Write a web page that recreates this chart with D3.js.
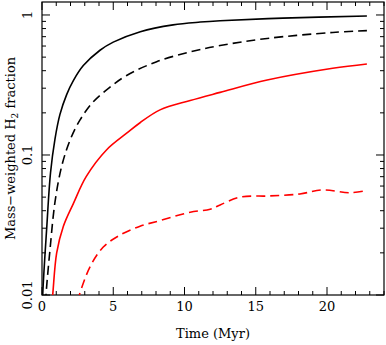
<!DOCTYPE html>
<html>
<head>
<meta charset="utf-8">
<script src="https://cdn.jsdelivr.net/npm/d3@7"></script>
<style>
  body { margin: 0; background: #fff; }
  text { font-family: "DejaVu Serif", serif; fill: #000; }
</style>
</head>
<body>
<svg id="mainsvg" width="386" height="345"></svg>
<script>
// values
const blackSolidT = [0.0, 0.05, 0.33, 0.6, 0.91, 1.26, 1.73, 2.2, 2.9, 4.07, 5.0, 6.9, 9.2, 11.1, 12.5, 16.9, 22.8];
const blackSolidV = [0.006, 0.01, 0.03, 0.075, 0.13, 0.195, 0.27, 0.34, 0.435, 0.56, 0.64, 0.76, 0.85, 0.89, 0.91, 0.95, 0.984];

const blackDashT = [0.2, 0.28, 0.56, 0.91, 1.38, 1.96, 2.67, 3.6, 4.77, 5.94, 8.05, 10.4, 12.5, 15.8, 20.4, 22.8];
const blackDashV = [0.007, 0.01, 0.021, 0.046, 0.083, 0.127, 0.178, 0.24, 0.305, 0.37, 0.464, 0.545, 0.605, 0.68, 0.75, 0.773];

const redSolidT = [0.65, 0.75, 1.03, 1.5, 2.2, 3.1, 4.54, 5.94, 6.88, 8.28, 10.4, 12.5, 15.8, 20.4, 22.8];
const redSolidV = [0.008, 0.01, 0.020, 0.031, 0.045, 0.070, 0.109, 0.143, 0.17, 0.21, 0.245, 0.28, 0.343, 0.416, 0.447];

const redDashT = [2.5, 2.62, 3.37, 4.3, 5.47, 6.88, 8.28, 10.4, 11.8, 12.5, 13.9, 16.0, 18.1, 19.7, 21.6, 22.8];
const redDashV = [0.009, 0.01, 0.0159, 0.022, 0.0268, 0.031, 0.034, 0.039, 0.041, 0.044, 0.050, 0.051, 0.0527, 0.0563, 0.0538, 0.0557];

const xMajor = [0, 5, 10, 15, 20];
const xMinor = d3.range(0, 25, 1);
const yMajor = [0.01, 0.1, 1];
const yMajorLabels = ['0.01', '0.1', '1'];

const svg = d3.select('#mainsvg');
const margin = {top: 2, right: 2, bottom: 50, left: 42};
const x0 = margin.left, x1 = 384, y0 = 295, y1 = margin.top;

const xScale = d3.scaleLinear().domain([0, 24]).range([x0, x1]);
const yScale = d3.scaleLog().domain([0.01, 1.238]).range([y0, y1]);

// minor ticks on log axis: 2..9 times each decade
let yMinor = [];
[0.01, 0.1, 1].forEach(d => { for (let k = 2; k <= 9; k++) { if (d * k <= 1.238) yMinor.push(d * k); } });

svg.append('clipPath').attr('id', 'clip')
  .append('rect').attr('x', x0).attr('y', y1).attr('width', x1 - x0).attr('height', y0 - y1);

const g = svg.append('g');

// frame
g.append('rect')
  .attr('x', x0).attr('y', y1).attr('width', x1 - x0).attr('height', y0 - y1)
  .attr('fill', 'none').attr('stroke', '#000').attr('stroke-width', 1.2);

// ticks (inward, on all four sides)
const tickG = g.append('g').attr('stroke', '#000').attr('stroke-width', 1);
xMinor.forEach(t => {
  const len = xMajor.includes(t) ? 8 : 4;
  tickG.append('line').attr('x1', xScale(t)).attr('x2', xScale(t)).attr('y1', y0).attr('y2', y0 - len);
  tickG.append('line').attr('x1', xScale(t)).attr('x2', xScale(t)).attr('y1', y1).attr('y2', y1 + len);
});
yMajor.concat(yMinor).forEach(v => {
  const len = yMajor.includes(v) ? 8 : 4;
  tickG.append('line').attr('x1', x0).attr('x2', x0 + len).attr('y1', yScale(v)).attr('y2', yScale(v));
  tickG.append('line').attr('x1', x1).attr('x2', x1 - len).attr('y1', yScale(v)).attr('y2', yScale(v));
});

// tick labels
g.selectAll('.xlab').data(xMajor).join('text')
  .attr('class', 'xlab')
  .attr('x', d => xScale(d)).attr('y', 311)
  .attr('text-anchor', 'middle').attr('font-size', 13)
  .text(d => d);

g.selectAll('.ylab').data(yMajor).join('text')
  .attr('class', 'ylab')
  .attr('transform', d => `translate(32, ${yScale(d)}) rotate(-90)`)
  .attr('text-anchor', 'middle').attr('font-size', 13)
  .text((d, i) => yMajorLabels[i]);

// axis titles
g.append('text')
  .attr('x', (x0 + x1) / 2).attr('y', 338)
  .attr('text-anchor', 'middle').attr('font-size', 13)
  .text('Time (Myr)');

const yt = g.append('text')
  .attr('transform', `translate(15, ${(y0 + y1) / 2}) rotate(-90)`)
  .attr('text-anchor', 'middle').attr('font-size', 13);
yt.append('tspan').text('Mass\u2212weighted H');
yt.append('tspan').attr('font-size', 9).attr('dy', 3).text('2');
yt.append('tspan').attr('dy', -3).text(' fraction');

// curves
const line = d3.line()
  .curve(d3.curveCatmullRom.alpha(0.5))
  .x(d => xScale(d[0])).y(d => yScale(d[1]));

const series = [
  {t: blackSolidT, v: blackSolidV, color: '#000', dash: null},
  {t: blackDashT, v: blackDashV, color: '#000', dash: '9,5'},
  {t: redSolidT, v: redSolidV, color: '#ff0000', dash: null},
  {t: redDashT, v: redDashV, color: '#ff0000', dash: '9,5'}
];

const curves = g.append('g').attr('clip-path', 'url(#clip)');
series.forEach(s => {
  curves.append('path')
    .attr('d', line(s.t.map((t, i) => [t, s.v[i]])))
    .attr('fill', 'none')
    .attr('stroke', s.color)
    .attr('stroke-width', 1.6)
    .attr('stroke-dasharray', s.dash);
});
</script>
</body>
</html>
